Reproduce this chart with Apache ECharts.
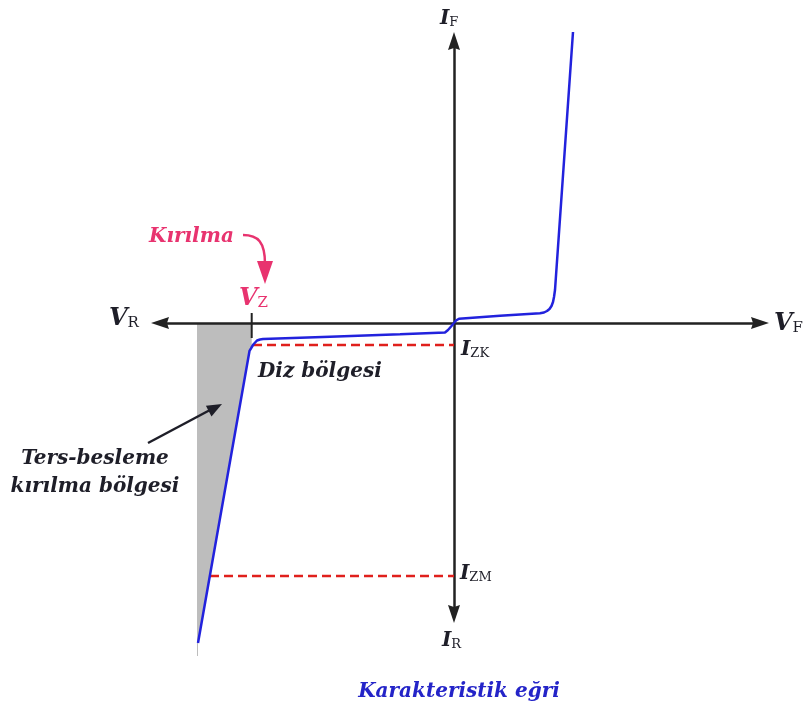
<!DOCTYPE html>
<html>
<head>
<meta charset="utf-8">
<title>Karakteristik eğri</title>
<script src="https://cdn.jsdelivr.net/npm/echarts@6/dist/echarts.min.js"></script>
<style>
  html, body { margin: 0; padding: 0; background: #fff; }
  #chart { width: 806px; height: 713px; }
</style>
</head>
<body>
<div id="chart"></div>
<script>
// Zener diode I-V curve, arbitrary units (x: voltage, y: current)
const forwardV = [0, 0.1, 0.25, 2.3, 4.3, 4.5, 4.65, 4.775, 4.875, 4.95, 5.0, 5.05, 5.95]
const forwardI = [0, 0.083, 0.143, 0.24, 0.323, 0.35, 0.4, 0.467, 0.567, 0.7, 0.867, 1.1, 9.7]

const reverseV = [0, -0.125, -0.3, -0.45, -0.55, -2.7, -6.2, -9.55, -9.7, -9.85, -9.95, -10.035, -10.125, -10.225, -12.8]
const reverseI = [0, -0.1, -0.233, -0.317, -0.33, -0.377, -0.457, -0.533, -0.55, -0.583, -0.633, -0.717, -0.817, -0.933, -10.667]

// shaded reverse breakdown region
const shadeV = [-12.85, -10.115, -10.115, -10.225, -12.8, -12.8, -12.85]
const shadeI = [0, 0, -0.75, -0.933, -10.667, -11.1, -11.1]

const VZ = -10.115
const vzTickI = [0.333, -0.5]
const IZK = -0.733
const izkV = [-10.05, 0]
const IZM = -8.433
const izmV = [-12.2, 0]

const X_MIN = -14.7, X_MAX = 15.3
const Y_MIN = -9.7, Y_MAX = 9.4

const BLUE = '#2222dd'
const RED = '#e0201c'
const PINK = '#e8336f'
const INK = '#1e1e28'
const AXIS = '#222222'
const FAMILY = '"DejaVu Serif", "Liberation Serif", serif'
const ARROW = 'path://M6,0 L12,18 L6,16 L0,18 Z'

function subLabel(x, y, main, sub, color, mainSize, subSize) {
  return {
    type: 'text',
    x, y,
    silent: true,
    style: {
      text: `{m|${main}}{s|${sub}}`,
      align: 'left',
      verticalAlign: 'middle',
      rich: {
        m: { fontFamily: FAMILY, fontStyle: 'italic', fontWeight: 'bold', fontSize: mainSize, fill: color },
        s: { fontFamily: FAMILY, fontStyle: 'normal', fontWeight: 'normal', fontSize: subSize, fill: color, verticalAlign: 'bottom' },
      },
    },
  }
}

function label(x, y, text, color, size, align) {
  return {
    type: 'text',
    x, y,
    silent: true,
    style: {
      text,
      fill: color,
      font: `italic bold ${size}px ${FAMILY}`,
      align: align || 'left',
      verticalAlign: 'middle',
    },
  }
}

const pairs = (xs, ys) => xs.map((v, i) => [v, ys[i]])

const axisCommon = {
  type: 'value',
  axisLine: {
    onZero: true,
    symbol: [ARROW, ARROW],
    symbolSize: [14, 18],
    lineStyle: { color: AXIS, width: 2.5 },
  },
  axisTick: { show: false },
  axisLabel: { show: false },
  splitLine: { show: false },
}

const option = {
  animation: false,
  backgroundColor: '#fff',
  grid: { left: 160, right: 46, top: 41, bottom: 99 },
  xAxis: { ...axisCommon, min: X_MIN, max: X_MAX },
  yAxis: { ...axisCommon, min: Y_MIN, max: Y_MAX },
  series: [
    {
      type: 'custom',
      z: -1,
      silent: true,
      data: [[shadeV[0], shadeI[0]]],
      renderItem(params, api) {
        const points = shadeV.map((v, i) => api.coord([v, shadeI[i]]))
        return { type: 'polygon', shape: { points }, style: { fill: '#bdbdbd' } }
      },
    },
    {
      type: 'line',
      data: pairs([VZ, VZ], vzTickI),
      symbol: 'none',
      clip: false,
      silent: true,
      lineStyle: { color: AXIS, width: 2 },
    },
    {
      type: 'line',
      data: pairs(izkV, [IZK, IZK]),
      symbol: 'none',
      clip: false,
      silent: true,
      lineStyle: { color: RED, width: 2.5, type: [9, 5] },
    },
    {
      type: 'line',
      data: pairs(izmV, [IZM, IZM]),
      symbol: 'none',
      clip: false,
      silent: true,
      lineStyle: { color: RED, width: 2.5, type: [9, 5] },
    },
    {
      type: 'line',
      data: pairs(forwardV, forwardI),
      symbol: 'none',
      clip: false,
      silent: true,
      z: 3,
      lineStyle: { color: BLUE, width: 2.5 },
    },
    {
      type: 'line',
      data: pairs(reverseV, reverseI),
      symbol: 'none',
      clip: false,
      silent: true,
      z: 3,
      lineStyle: { color: BLUE, width: 2.5 },
    },
  ],
  graphic: [
    subLabel(440, 19, 'I', 'F', INK, 20, 13),
    subLabel(442, 641, 'I', 'R', INK, 20, 13),
    subLabel(109, 319, 'V', 'R', INK, 24, 15),
    subLabel(774, 324, 'V', 'F', INK, 24, 15),
    subLabel(461, 350, 'I', 'ZK', INK, 20, 13),
    subLabel(460, 574, 'I', 'ZM', INK, 20, 13),
    subLabel(239, 299, 'V', 'Z', PINK, 24, 15),

    label(149, 237, 'Kırılma', PINK, 20),
    {
      type: 'bezierCurve',
      silent: true,
      shape: { x1: 243, y1: 235, cpx1: 258, cpy1: 235, cpx2: 265, cpy2: 242, x2: 265, y2: 264 },
      style: { stroke: PINK, lineWidth: 2.5, fill: null },
    },
    {
      type: 'polygon',
      silent: true,
      shape: { points: [[257, 261], [273, 261], [265, 284]] },
      style: { fill: PINK },
    },

    label(258, 372, 'Diz bölgesi', INK, 20),
    label(95, 459, 'Ters-besleme', INK, 20, 'center'),
    label(95, 487, 'kırılma bölgesi', INK, 20, 'center'),
    {
      type: 'line',
      silent: true,
      shape: { x1: 148, y1: 443, x2: 210, y2: 410 },
      style: { stroke: INK, lineWidth: 2.5 },
    },
    {
      type: 'polygon',
      silent: true,
      shape: { points: [[222, 404], [211.5, 416.5], [205.9, 405.7]] },
      style: { fill: INK },
    },

    label(459, 692, 'Karakteristik eğri', '#2424c8', 20, 'center'),
  ],
}

const chart = echarts.init(document.getElementById('chart'))
chart.setOption(option)
</script>
</body>
</html>
